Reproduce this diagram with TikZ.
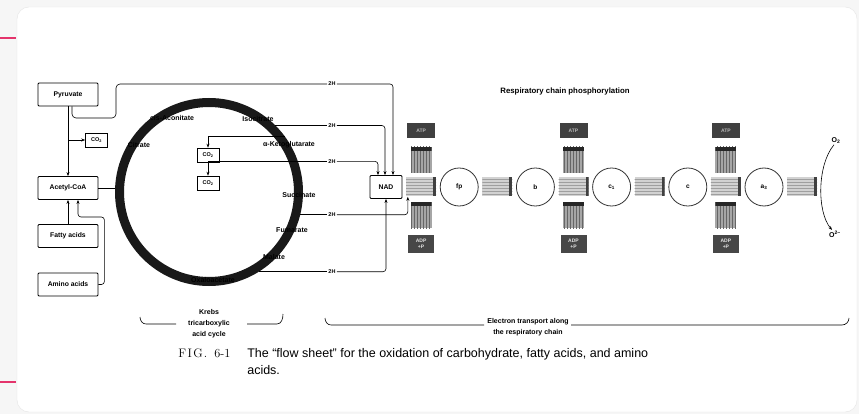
\documentclass[tikz,border=0pt]{standalone}
\usepackage{fontspec}
\setsansfont{Liberation Sans}
\usetikzlibrary{arrows.meta,positioning,patterns}

\definecolor{pinkrule}{HTML}{E4346C}

\begin{document}
\begin{tikzpicture}[x=1pt, y=-1pt, semithick, >={Stealth[length=4pt,width=3pt]},
  node distance=3.4pt,
  lbl/.style={font=\sffamily\bfseries\fontsize{7}{8}\selectfont, inner sep=0.5pt},
  srcbox/.style={draw, thick, rounded corners=1pt, minimum width=60pt, minimum height=23pt, inner sep=1pt, font=\sffamily\bfseries\fontsize{6.8}{7}\selectfont},
  co2box/.style={draw, minimum width=22pt, minimum height=14pt, inner sep=0pt, font=\sffamily\bfseries\fontsize{5.5}{6}\selectfont},
  ring/.style={circle, draw=black!90, line width=9pt, minimum size=179pt, inner sep=0pt},
  hlab/.style={fill=white, inner sep=1pt, font=\sffamily\bfseries\fontsize{5.5}{6}\selectfont},
  hbar/.style={rectangle, minimum width=30pt, minimum height=19pt, inner sep=0pt,
    preaction={fill=gray!35}, pattern=horizontal lines, pattern color=gray!75,
    path picture={\fill[black!75] ([xshift=-3pt]path picture bounding box.north east) rectangle (path picture bounding box.south east);}},
  vbar/.style={rectangle, minimum width=21pt, minimum height=26pt, inner sep=0pt,
    preaction={fill=gray!70}, pattern=vertical lines, pattern color=black!60,
    path picture={\fill[black!85] (path picture bounding box.north west) rectangle ([yshift=-4pt]path picture bounding box.north east);}},
  atpbox/.style={rectangle, fill=black!75, text=gray!55, minimum width=28pt, minimum height=15pt, inner sep=0pt, font=\sffamily\bfseries\fontsize{5}{5}\selectfont},
  adpbox/.style={rectangle, fill=black!72, text=gray!20, minimum width=26pt, minimum height=18pt, inner sep=0pt, align=center, font=\sffamily\bfseries\fontsize{5}{5.5}\selectfont},
  carrier/.style={circle, draw=black!80, line width=0.8pt, minimum size=38pt, inner sep=0pt, font=\sffamily\bfseries\fontsize{6.5}{7}\selectfont}]

  \useasboundingbox (0,0) rectangle (859,414);
  \fill[gray!7] (0,0) rectangle (859,414);
  \filldraw[fill=white, draw=gray!20, thin, rounded corners=12pt] (17,7) rectangle (857,412);
  \draw[pinkrule, line width=1.4pt] (0,38) -- (16,38);
  \draw[pinkrule, line width=1.4pt] (0,382) -- (16,382);

  \node[srcbox] (pyr) at (68,94.5) {Pyruvate};
  \node[co2box] (co2a) at (96.5,140) {CO\textsubscript{2}};
  \node[srcbox] (acoa) at (68,188) {Acetyl-CoA};
  \node[srcbox] (fatty) at (68,236) {Fatty acids};
  \node[srcbox] (amino) at (68,284.5) {Amino acids};

  \draw[->] (pyr.south) -- (acoa.north);
  \draw[->] (pyr.south |- co2a.west) -- (co2a.west);
  \draw[->] (fatty.north) -- (acoa.south);
  \draw[->, rounded corners=3pt] (amino.east) -- ++(6,0) |- (78,217) -- ([xshift=10pt]acoa.south);

  \node[ring] (tca) at (209,192) {};
  \draw (acoa.east) -- (acoa.east -| tca.west);

  \node[co2box] (co2b) at (208,155) {CO\textsubscript{2}};
  \node[co2box] (co2c) at (208,183) {CO\textsubscript{2}};
  \draw[->] (tca.36) -| (co2b.north);
  \draw[->] (tca.19) -| (co2c.north);

  \node[lbl] (citr) at (139,145) {Citrate};
  \node[lbl] (cisac) at (172,118) {cis-Aconitate};
  \node[lbl] (isoc) at (258,119) {Isocitrate};
  \node[lbl] (akg) at (289,145) {α-Ketoglutarate};
  \node[lbl] (succ) at (299,195) {Succinate};
  \node[lbl] (fum) at (292,230) {Fumarate};
  \node[lbl] (mal) at (274,257) {Malate};
  \node[lbl] (oxa) at (213,280) {Oxaloacetate};

  \node[srcbox, minimum width=32pt] (nad) at (386,187) {NAD};

  \node[hlab] (h2pyr) at (332,84) {2H};
  \node[hlab] (h2iso) at (tca.45 -| 332,0) {2H};
  \node[hlab] (h2akg) at (tca.19 -| 332,0) {2H};
  \node[hlab] (h2suc) at (tca.-14 -| 332,0) {2H};
  \node[hlab] (h2mal) at (tca.-58 -| 332,0) {2H};

  \node[hbar, right=of nad] (hb1) {};
  \node[carrier, right=of hb1] (fp) {fp};
  \node[hbar, right=of fp] (hb2) {};
  \node[carrier, right=of hb2] (cb) {b};
  \node[hbar, right=of cb] (hb3) {};
  \node[carrier, right=of hb3] (cc1) {c\textsubscript{1}};
  \node[hbar, right=of cc1] (hb4) {};
  \node[carrier, right=of hb4] (cc) {c};
  \node[hbar, right=of cc] (hb5) {};
  \node[carrier, right=of hb5] (ca3) {a\textsubscript{3}};
  \node[hbar, right=of ca3] (hb6) {};

  \node[vbar, above=4pt of hb1] (vu1) {};
  \node[atpbox, above=8pt of vu1] (atp1) {ATP};
  \node[vbar, below=5pt of hb1] (vd1) {};
  \node[adpbox, below=6pt of vd1] (adp1) {ADP\\+P};
  \node[vbar, above=4pt of hb3] (vu2) {};
  \node[atpbox, above=8pt of vu2] (atp2) {ATP};
  \node[vbar, below=5pt of hb3] (vd2) {};
  \node[adpbox, below=6pt of vd2] (adp2) {ADP\\+P};
  \node[vbar, above=4pt of hb5] (vu3) {};
  \node[atpbox, above=8pt of vu3] (atp3) {ATP};
  \node[vbar, below=5pt of hb5] (vd3) {};
  \node[adpbox, below=6pt of vd3] (adp3) {ADP\\+P};

  \draw[rounded corners=4pt] ([xshift=4pt]pyr.south) |- (116,118) -- (116,84) -- (h2pyr.west);
  \draw[->, rounded corners=3pt] (h2pyr.east) -| ([xshift=7pt]nad.north);
  \draw (tca.45) -- (h2iso.west);
  \draw[->, rounded corners=3pt] (h2iso.east) -| ([xshift=-1pt]nad.north);
  \draw (tca.19) -- (h2akg.west);
  \draw[->, rounded corners=3pt] (h2akg.east) -| ([xshift=-8pt]nad.north);
  \draw (tca.-14) -- (h2suc.west);
  \draw[->, rounded corners=3pt] (h2suc.east) -| ([xshift=2pt]hb1.south west);
  \draw (tca.-58) -- (h2mal.west);
  \draw[->, rounded corners=3pt] (h2mal.east) -| (nad.south);

  \node[lbl, font=\sffamily\bfseries\fontsize{7.8}{9}\selectfont] (rcp) at (565,91) {Respiratory chain phosphorylation};

  \node[lbl] (o2) at (836,141) {O\textsubscript{2}};
  \node[lbl] (o2m) at (835,234) {O\textsuperscript{2−}};
  \draw[->] ([xshift=-2pt]o2.south) .. controls (817,165) and (817,212) .. ([xshift=-3pt]o2m.north);

  \node[lbl, align=center, font=\sffamily\bfseries\fontsize{7}{11}\selectfont] (krebs) at (209,324) {Krebs\\tricarboxylic\\acid cycle};
  \draw (140,317) to[out=-90, in=180] (146,324) -- (176,324);
  \draw (247,324) -- (277,324) to[out=0, in=-90] (283,314);
  \node[lbl, align=center, font=\sffamily\bfseries\fontsize{7}{11}\selectfont] (etrans) at (528,327.5) {Electron transport along\\the respiratory chain};
  \draw (325,318) to[out=-90, in=180] (331,325) -- (484,325);
  \draw (571,325) -- (842,325) to[out=0, in=-90] (849,318);

  \node[anchor=base west, inner sep=0pt, font=\rmfamily\fontsize{12.3}{14}\selectfont] (fig) at (178,357) {F\kern1.5pt I\kern1.5pt G\kern1pt .\hspace{7pt}6-1};
  \node[anchor=base west, inner sep=0pt, font=\sffamily\fontsize{12.5}{14}\selectfont] (cap) at (247,357) {The “flow sheet” for the oxidation of carbohydrate, fatty acids, and amino};
  \node[anchor=base west, inner sep=0pt, font=\sffamily\fontsize{12.5}{14}\selectfont] (cap2) at (247,374) {acids.};
\end{tikzpicture}
\end{document}
